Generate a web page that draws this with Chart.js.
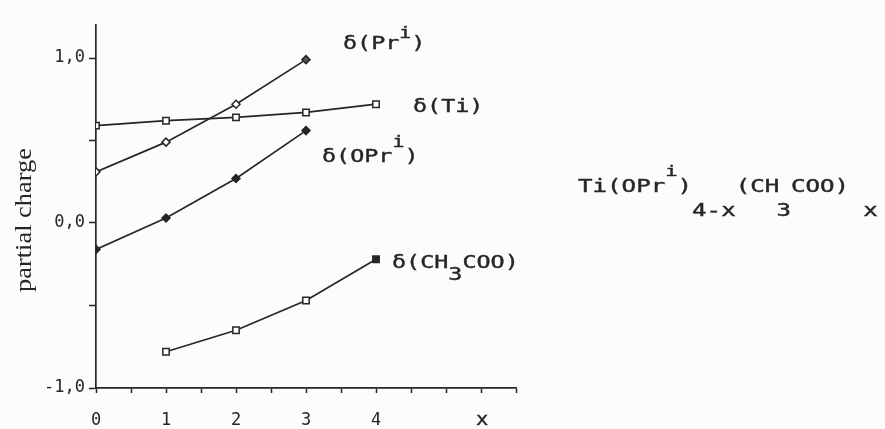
<!DOCTYPE html>
<html>
<head>
<meta charset="utf-8">
<script src="https://cdn.jsdelivr.net/npm/chart.js@4"></script>
<style>
  html, body { margin: 0; padding: 0; background: #fcfcfa; }
  #wrap { width: 885px; height: 429px; }
</style>
</head>
<body>
<div id="wrap"><canvas id="chart" width="885" height="429"></canvas></div>
<script>
// values
const xValues = [0, 1, 2, 3, 4];
const tiCharge = [0.59, 0.62, 0.64, 0.67, 0.72];
const priCharge = [0.31, 0.49, 0.72, 0.99];
const opriCharge = [-0.16, 0.03, 0.27, 0.56];
const acetateCharge = [null, -0.78, -0.65, -0.47, -0.22];

const xTicks = [0, 0.5, 1, 1.5, 2, 2.5, 3, 3.5, 4, 4.5, 5, 5.5, 6];
const xTickLabels = ['0', '1', '2', '3', '4'];
const yTicks = [-1, -0.5, 0, 0.5, 1];
const yTickLabels = { '-1': '-1,0', '0': '0,0', '1': '1,0' };

const ink = '#262626';
const mono = '"DejaVu Sans Mono", monospace';

function toPoints(values) {
	let pts = [];
	for (let i = 0; i < values.length; i++) {
		if (values[i] !== null) pts.push({ x: xValues[i], y: values[i] });
	}
	return pts;
}

// text made of pieces, some raised (sup) or lowered (sub), stretched sideways
function drawPieces(ctx, pieces, x, y, size, stretch, supUp, subDown) {
	ctx.save();
	ctx.translate(x, y);
	ctx.scale(stretch, 1);
	ctx.fillStyle = ink;
	ctx.strokeStyle = ink;
	ctx.lineWidth = 0.4;
	ctx.textBaseline = 'alphabetic';
	let cx = 0;
	pieces.forEach((p) => {
		let s = p.small ? size * 0.85 : size;
		ctx.font = s + 'px ' + mono;
		let dy = 0;
		if (p.sup) dy = -supUp;
		if (p.sub) dy = subDown;
		cx += p.before || 0;
		ctx.fillText(p.t, cx, dy);
		ctx.strokeText(p.t, cx, dy);
		cx += ctx.measureText(p.t).width;
	});
	ctx.restore();
}

const labelsPlugin = {
	id: 'labels',
	afterDraw(chart) {
		const ctx = chart.ctx;
		const xs = chart.scales.x;
		const ys = chart.scales.y;
		const px = (v) => xs.getPixelForValue(v);
		const py = (v) => ys.getPixelForValue(v);

		drawPieces(ctx, [{ t: 'δ(Pr' }, { t: 'i', sup: true, small: true }, { t: ')' }],
			px(3) + 37, py(priCharge[3]) - 11, 18, 1.3, 11, 0);
		drawPieces(ctx, [{ t: 'δ(Ti)' }], px(4) + 37, py(tiCharge[4]) + 8, 18, 1.3, 0, 0);
		drawPieces(ctx, [{ t: 'δ(OPr' }, { t: 'i', sup: true, small: true }, { t: ')' }],
			px(3) + 16, py(opriCharge[3]) + 31, 18, 1.3, 15, 0);
		drawPieces(ctx, [{ t: 'δ(CH' }, { t: '3', sub: true }, { t: 'COO)' }],
			px(4) + 16, py(acetateCharge[4]) + 9, 18, 1.3, 0, 12);

		drawPieces(ctx, [
			{ t: 'Ti(OPr' }, { t: 'i', sup: true, small: true }, { t: ')' },
			{ t: '4-x', sub: true }, { t: '(CH' }, { t: '3', sub: true, before: -2 },
			{ t: 'COO)' }, { t: 'x', sub: true, before: 10 }
		], 578, 192, 17, 1.42, 16, 24);

		// axis name on the x axis
		drawPieces(ctx, [{ t: 'x' }], px(5.5) - 5, 425, 17, 1.2, 0, 0);

		// y axis title
		ctx.save();
		ctx.translate(31, 220);
		ctx.rotate(-Math.PI / 2);
		ctx.scale(1.1, 1);
		ctx.font = '24px "Liberation Serif", serif';
		ctx.fillStyle = ink;
		ctx.textAlign = 'center';
		ctx.textBaseline = 'alphabetic';
		ctx.fillText('partial charge', 0, 0);
		ctx.restore();
	}
};

const lineStyle = { borderColor: ink, borderWidth: 1.7, pointBorderColor: ink, pointBorderWidth: 1.5, tension: 0, fill: false };

const chart = new Chart(document.getElementById('chart').getContext('2d'), {
	type: 'line',
	data: {
		datasets: [
			Object.assign({ label: 'δ(Ti)', data: toPoints(tiCharge), pointStyle: 'rect', pointRadius: 4.5, pointBackgroundColor: '#fff' }, lineStyle),
			Object.assign({ label: 'δ(Pri)', data: toPoints(priCharge), pointStyle: 'rectRot', pointRadius: 4, pointBackgroundColor: ['#fff', '#fff', '#fff', '#555'] }, lineStyle),
			Object.assign({ label: 'δ(OPri)', data: toPoints(opriCharge), pointStyle: 'rectRot', pointRadius: 4, pointBackgroundColor: ink }, lineStyle),
			Object.assign({ label: 'δ(CH3COO)', data: toPoints(acetateCharge), pointStyle: 'rect', pointRadius: 4.5, pointBackgroundColor: ['#fff', '#fff', '#fff', ink] }, lineStyle)
		]
	},
	options: {
		responsive: false,
		animation: false,
		layout: { padding: { top: 25, right: 369, left: 0, bottom: 0 } },
		plugins: { legend: { display: false }, tooltip: { enabled: false } },
		scales: {
			x: {
				type: 'linear',
				min: 0,
				max: 6,
				afterBuildTicks: (scale) => { scale.ticks = xTicks.map((v) => ({ value: v })); },
				afterFit: (scale) => { scale.height = 41; },
				grid: { drawOnChartArea: false, tickLength: 5, tickColor: ink, tickWidth: 1.5 },
				border: { color: ink, width: 1.7 },
				ticks: {
					color: ink,
					padding: 17,
					autoSkip: false,
					maxRotation: 0,
					font: { family: mono, size: 17 },
					callback: (v) => (Number.isInteger(v) && v < xTickLabels.length ? xTickLabels[v] : '')
				}
			},
			y: {
				min: -1,
				max: 1.2,
				afterBuildTicks: (scale) => { scale.ticks = yTicks.map((v) => ({ value: v })); },
				afterFit: (scale) => { scale.width = 96; },
				grid: { drawOnChartArea: false, tickLength: 7, tickColor: ink, tickWidth: 1.5 },
				border: { color: ink, width: 1.7 },
				ticks: {
					color: ink,
					padding: 4,
					font: { family: mono, size: 17 },
					callback: (v) => yTickLabels[String(v)] || ''
				}
			}
		}
	},
	plugins: [labelsPlugin]
});
</script>
</body>
</html>
